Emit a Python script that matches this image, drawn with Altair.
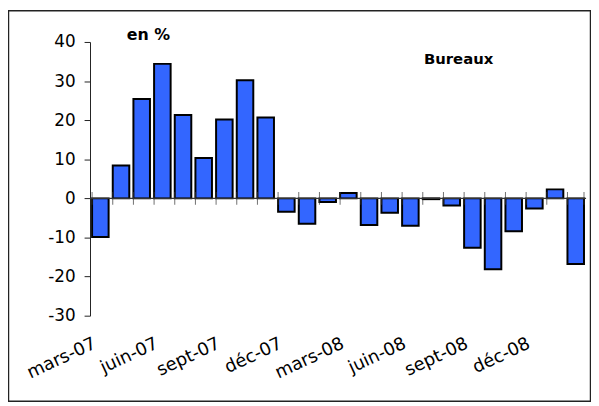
import altair as alt
import pandas as pd

months = ["mars-07", "avr-07", "mai-07", "juin-07", "juil-07", "août-07", "sept-07",
          "oct-07", "nov-07", "déc-07", "janv-08", "févr-08", "mars-08", "avr-08",
          "mai-08", "juin-08", "juil-08", "août-08", "sept-08", "oct-08", "nov-08",
          "déc-08", "janv-09", "févr-09"]
values = [-9.9, 8.4, 25.4, 34.4, 21.3, 10.3, 20.2, 30.2, 20.7, -3.4, -6.5, -0.9,
          1.4, -6.8, -3.7, -7.0, -0.2, -1.8, -12.6, -18.1, -8.4, -2.6, 2.3, -16.8]
shown_labels = ["mars-07", "juin-07", "sept-07", "déc-07", "mars-08", "juin-08",
                "sept-08", "déc-08"]
y_ticks = [-30, -20, -10, 0, 10, 20, 30, 40]

df = pd.DataFrame({"mois": months, "valeur": values})
one = pd.DataFrame({"k": [0]})

W, H = 502, 277

xscale = alt.Scale(domain=months, paddingInner=0.2, paddingOuter=0.1)
yscale = alt.Scale(domain=[-30, 40], nice=False)

xaxis = alt.Axis(title=None, values=shown_labels, domain=False, ticks=False,
                 labelAngle=-25, labelAlign="right", labelBaseline="top",
                 labelPadding=19, labelOffset=-9, labelFont="DejaVu Sans",
                 labelFontSize=18, labelColor="black", labelOverlap=False,
                 tickCount=30)
yaxis = alt.Axis(title=None, values=y_ticks, tickCount=20, grid=False, domainColor="#222",
                 tickColor="#222", tickSize=6, labelPadding=9,
                 labelExpr="'' + datum.value", labelOverlap=False,
                 labelFont="DejaVu Sans", labelFontSize=17, labelColor="black")

bars = alt.Chart(df).mark_bar(color="#3366ff", stroke="black", strokeWidth=2).encode(
    x=alt.X("mois:N", scale=xscale, sort=months, axis=xaxis),
    y=alt.Y("valeur:Q", scale=yscale, axis=yaxis),
)

frame = alt.Chart(one).mark_rect(fill="white", fillOpacity=0, stroke="#222", strokeWidth=1.5).encode(
    x=alt.value(-82.5), x2=alt.value(W + 4.5), y=alt.value(-31.5), y2=alt.value(H + 86.5)
)

ticks = alt.Chart(df).mark_tick(orient="vertical", color="#333", thickness=1, size=13).encode(
    x=alt.X("mois:N", scale=xscale, bandPosition=0),
    y=alt.Y(datum=0, scale=yscale),
)
last_tick = alt.Chart(df.tail(1)).mark_tick(orient="vertical", color="#333", thickness=1, size=13).encode(
    x=alt.X("mois:N", scale=xscale, bandPosition=1),
    y=alt.Y(datum=0, scale=yscale),
)

zero = alt.Chart(one).mark_rule(color="#333", strokeWidth=1.2).encode(
    y=alt.Y(datum=0, scale=yscale))

t1 = alt.Chart(one).mark_text(text="en %", font="DejaVu Sans", fontWeight="bold",
                              fontSize=16, align="center", baseline="alphabetic", color="black").encode(
    x=alt.value(59), y=alt.value(-2))
t2 = alt.Chart(one).mark_text(text="Bureaux", font="DejaVu Sans", fontWeight="bold",
                              fontSize=15, align="center", baseline="alphabetic", color="black").encode(
    x=alt.value(373), y=alt.value(22))

chart = alt.layer(bars, frame, ticks, last_tick, zero, t1, t2).properties(
    width=W, height=H,
    autosize=alt.AutoSizeParams(type="none"),
    padding={"left": 83, "top": 32, "right": 5, "bottom": 87},
).configure_view(stroke=None).configure_axis(labelOverlap=False)

chart.save("out.html", embed_options={"renderer": "svg", "actions": False})
